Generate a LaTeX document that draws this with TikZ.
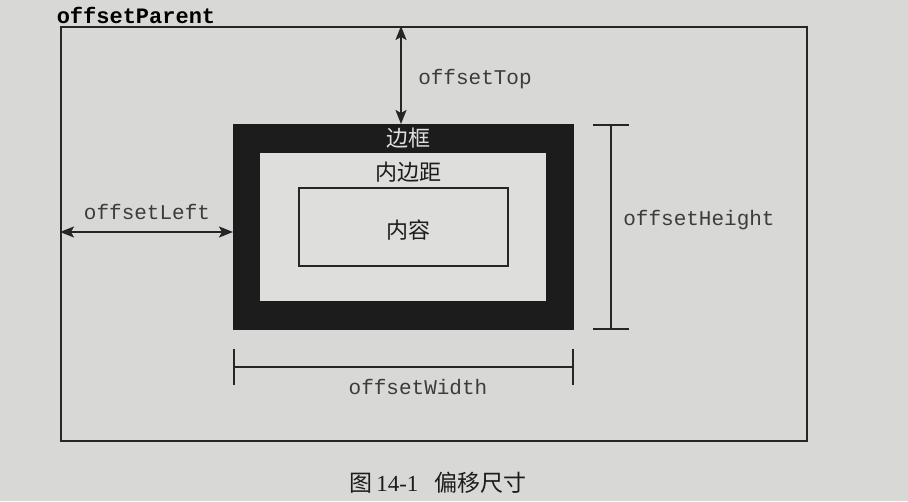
\documentclass[tikz,border=0pt]{standalone}
\usepackage{fontspec}
\setmainfont{Liberation Serif}
\setmonofont{Liberation Mono}
\newfontfamily\cjk{Noto Sans CJK SC}
\usetikzlibrary{arrows.meta}
\definecolor{paper}{HTML}{D8D8D6}
\definecolor{paperlight}{HTML}{DEDEDC}
\definecolor{ink}{HTML}{262626}
\definecolor{inkdark}{HTML}{1C1C1C}
\definecolor{labelgray}{HTML}{3C3C3C}
\tikzset{
  boxline/.style={draw=ink, line width=1.5pt, inner sep=0pt, anchor=north west},
  monolabel/.style={font=\fontsize{21}{21}\selectfont\ttfamily, text=labelgray, inner sep=0pt},
  cjklabel/.style={font=\fontsize{22}{22}\selectfont\cjk, inner sep=0pt},
  dimarrow/.style={draw=ink, line width=1.5pt, {Stealth[length=14pt,width=11pt,inset=3pt]}-{Stealth[length=14pt,width=11pt,inset=3pt]}},
  dimbar/.style={draw=ink, line width=1.5pt, {Bar[width=36pt]}-{Bar[width=36pt]}}
}
\begin{document}
\begin{tikzpicture}[x=1pt,y=-1pt]
  % page
  \fill[paper] (0,0) rectangle (908,501);
  \useasboundingbox (0,0) rectangle (908,501);

  % offsetParent frame
  \node[boxline, minimum width=746pt, minimum height=414pt] (parent) at (60,26) {};
  \node[font=\fontsize{22}{22}\selectfont\ttfamily\bfseries, text=black, inner sep=0pt] (parentlabel) at (136,15) {offsetParent};

  % element: border, padding, content
  \node[boxline, draw=inkdark, fill=inkdark, minimum width=339pt, minimum height=204pt] (border) at (233,124) {};
  \node[boxline, draw=none, fill=paperlight, minimum width=286pt, minimum height=148pt] (padding) at (259,152) {};
  \node[boxline, line width=1.6pt, fill=paperlight, minimum width=209pt, minimum height=78pt] (content) at (298,187) {};

  \node[cjklabel, text=paperlight] (borderlabel) at (408,138) {边框};
  \node[cjklabel, text=inkdark] (paddinglabel) at (408,172) {内边距};
  \node[cjklabel, text=inkdark] (contentlabel) at (408,230) {内容};

  % offsetTop
  \coordinate (topx) at (401,0);
  \draw[dimarrow] (topx |- parent.north) -- (topx |- border.north);
  \node[monolabel] (toplabel) at (475,79) {offsetTop};

  % offsetLeft
  \coordinate (lefty) at (0,232);
  \draw[dimarrow] (parent.west |- lefty) -- (border.west |- lefty);
  \node[monolabel] (leftlabel) at (147,212) {offsetLeft};

  % offsetHeight
  \coordinate (heightx) at (611,0);
  \draw[dimbar] (heightx |- border.north) -- (heightx |- border.south);
  \node[monolabel] (heightlabel) at (699,220) {offsetHeight};

  % offsetWidth
  \coordinate (widthy) at (0,367);
  \draw[dimbar] (border.west |- widthy) -- (border.east |- widthy);
  \node[monolabel] (widthlabel) at (418,387) {offsetWidth};

  % caption
  \node[font=\fontsize{23}{23}\selectfont, text=inkdark, inner sep=0pt] (caption) at (438,483)
    {{\cjk 图}\,14-1\hspace{16pt}{\cjk 偏移尺寸}};
\end{tikzpicture}
\end{document}
